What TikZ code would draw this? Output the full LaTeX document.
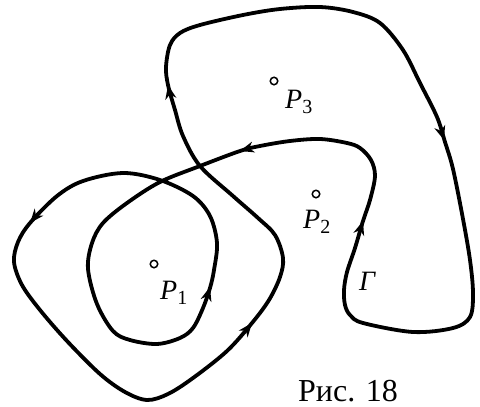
\documentclass[tikz,border=0pt]{standalone}
\usepackage{fontspec}
\setmainfont{Liberation Serif}
\usetikzlibrary{arrows.meta}
\newcommand\mysub[1]{\raisebox{-5pt}{\fontsize{20}{20}\selectfont\upshape #1}}
\begin{document}
\begin{tikzpicture}[x=1pt,y=-1pt,
  curve/.style={line width=3.8pt, line join=round},
  arr/.style={line width=3.8pt, -{Stealth[length=14pt,width=11pt,inset=4.5pt]}},
  pt/.style={circle, draw, line width=1.5pt, minimum size=7.5pt, inner sep=0pt},
  lab/.style={anchor=base west, inner sep=0pt, text depth=0pt, font=\fontsize{28}{28}\selectfont\itshape}]
\useasboundingbox (0,0) rectangle (480,407);
\draw[curve] plot[smooth cycle, tension=0.55] coordinates {
 (345,305) (344,290) (347,272) (355,248) (363,221) (370,200) (375,176) (371,160)
 (360,148) (347,143) (320,139) (290,141) (260,146) (240,151) (200,166) (160,182)
 (127,203) (103,223) (92,243) (88,269) (97,304) (113,331) (130,340) (157,344)
 (180,338) (193,328) (203,308) (210,288) (214,270) (217,243) (210,216) (193,196)
 (160,180) (123,173) (83,181) (57,196) (30,223) (18,242) (14,262) (22,285)
 (40,310) (67,341) (100,374) (125,392) (147,400) (168,394) (193,378) (227,351) (252,323)
 (269,300) (280,277) (283,258) (275,235) (258,218) (233,196) (200,166) (183,136)
 (175,110) (168,85) (166,67) (170,45) (180,33) (200,25) (243,15) (280,9)
 (320,7) (353,12) (380,23) (403,50) (420,83) (437,117) (445,142) (453,169)
 (463,219) (470,260) (473,293) (470,317) (453,328) (413,332) (363,323) (350,315)};
\coordinate (t1) at (361.2,226.7); \coordinate (h1) at (363,221);
\coordinate (t2) at (245.8,149.3); \coordinate (h2) at (240,151);
\coordinate (t3) at (33.8,218.4);  \coordinate (h3) at (30,223);
\coordinate (t4) at (208.3,292.8); \coordinate (h4) at (210,287);
\coordinate (t5) at (248.25,327.7);\coordinate (h5) at (252,323);
\coordinate (t6) at (169.2,90.9);  \coordinate (h6) at (168,85);
\coordinate (t7) at (442.2,134.3); \coordinate (h7) at (444,140);
\foreach \i in {1,...,7} \draw[arr] (t\i) -- (h\i);
\node[pt] (p1) at (154,264) {};
\node[pt] (p2) at (316,194) {};
\node[pt] (p3) at (274,81) {};
\node[lab] (l1) at (160,299) {P\mysub{1}};
\node[lab] (l2) at (303,228) {P\mysub{2}};
\node[lab] (l3) at (285,108) {P\mysub{3}};
\node[lab] (lg) at (359,290) {Γ};
\node[anchor=base west, inner sep=0pt, text depth=0pt, font=\fontsize{32}{32}\selectfont] (cap) at (298,401) {Рис. 18};
\end{tikzpicture}
\end{document}
